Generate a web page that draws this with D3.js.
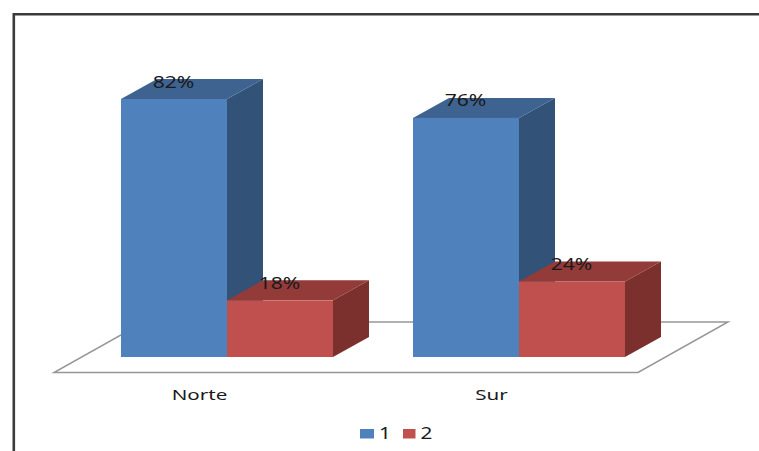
<!DOCTYPE html>
<html>
<head>
<meta charset="utf-8">
<script src="https://cdn.jsdelivr.net/npm/d3@7"></script>
<style>
  html, body { margin: 0; padding: 0; background: #fff; }
  svg { display: block; }
  text { font-family: "Noto Sans", "Liberation Sans", Arial, sans-serif; fill: #1a1a1a; }
</style>
</head>
<body>
<svg id="chart" width="759" height="451"></svg>
<script>
const categories = ["Norte", "Sur"];
const seriesNames = ["1", "2"];
const seriesOne = [82, 76];
const seriesTwo = [18, 24];
const valueSuffix = "%";

const palette = {
  "1": { front: "#4f81bd", top: "#3e6391", side: "#325278" },
  "2": { front: "#c0504d", top: "#933b39", side: "#7b302e" }
};

const svg = d3.select("#chart");
const width = 759, height = 451;

// Projection offset of the 3D depth axis
const depth = { dx: 36, dy: -20 };
const floorFront = 372.5, floorBack = 322;

const y = d3.scaleLinear().domain([0, 82]).range([357, 99]);
const xGroup = d3.scaleBand().domain(categories).range([81, 665]);
const groupPad = 40;
const xBar = d3.scaleBand().domain(seriesNames)
  .range([0, xGroup.bandwidth() - 2 * groupPad]);

// Stretched text: the glyphs run wider than the font's natural proportions
function wideText(sel, x, y, str, size, sx) {
  return sel.append("text")
    .attr("transform", `translate(${x},${y}) scale(${sx},1)`)
    .attr("text-anchor", "middle")
    .style("font-size", size + "px")
    .text(str);
}

// Outer frame: top and left rules only
svg.append("path")
  .attr("d", `M13.8,451V14.2H${width}`)
  .attr("fill", "none")
  .attr("stroke", "#3a3a3a")
  .attr("stroke-width", 2.6);

// Floor plane under the bars
svg.append("path")
  .attr("d", d3.line()([[54, floorFront], [638, floorFront], [728, floorBack], [144, floorBack]]) + "Z")
  .attr("fill", "#fff")
  .attr("stroke", "#979797")
  .attr("stroke-width", 1.5);

const rows = categories.flatMap((c, i) => [
  { cat: c, key: "1", value: seriesOne[i] },
  { cat: c, key: "2", value: seriesTwo[i] }
]);

const polygon = d3.line();
const bars = svg.append("g");

// Faces are painted back to front so the red box overlaps the blue side
rows.forEach(d => {
  const x0 = xGroup(d.cat) + groupPad + xBar(d.key);
  const x1 = x0 + xBar.bandwidth();
  const yTop = y(d.value), yBase = y(0);
  const g = bars.append("g");
  g.append("path")
    .attr("d", polygon([[x1, yBase], [x1 + depth.dx, yBase + depth.dy], [x1 + depth.dx, yTop + depth.dy], [x1, yTop]]) + "Z")
    .attr("fill", palette[d.key].side);
  g.append("path")
    .attr("d", polygon([[x0, yTop], [x0 + depth.dx, yTop + depth.dy], [x1 + depth.dx, yTop + depth.dy], [x1, yTop]]) + "Z")
    .attr("fill", palette[d.key].top);
  g.append("rect")
    .attr("x", x0).attr("y", yTop)
    .attr("width", x1 - x0).attr("height", yBase - yTop)
    .attr("fill", palette[d.key].front);
});

// Value labels sit across the top edge of each box
rows.forEach(d => {
  const cx = xGroup(d.cat) + groupPad + xBar(d.key) + xBar.bandwidth() / 2;
  wideText(svg, cx - 0.5, y(d.value) - 11.5, d.value + valueSuffix, 16, 1.32);
});

// Category labels
categories.forEach(c => {
  const cx = xGroup(c) + xGroup.bandwidth() / 2 - 27;
  wideText(svg, cx - 0.5, 400, c, 15, 1.37);
});

// Legend
const legendItems = [
  { key: "1", sx: 360, tx: 385 },
  { key: "2", sx: 403, tx: 426.5 }
];
legendItems.forEach(it => {
  svg.append("rect")
    .attr("x", it.sx).attr("y", 429)
    .attr("width", it.key === "1" ? 14 : 12.5).attr("height", 9.5)
    .attr("fill", palette[it.key].front);
  wideText(svg, it.tx, 438.5, it.key, 16, 1.3);
});
</script>
</body>
</html>
